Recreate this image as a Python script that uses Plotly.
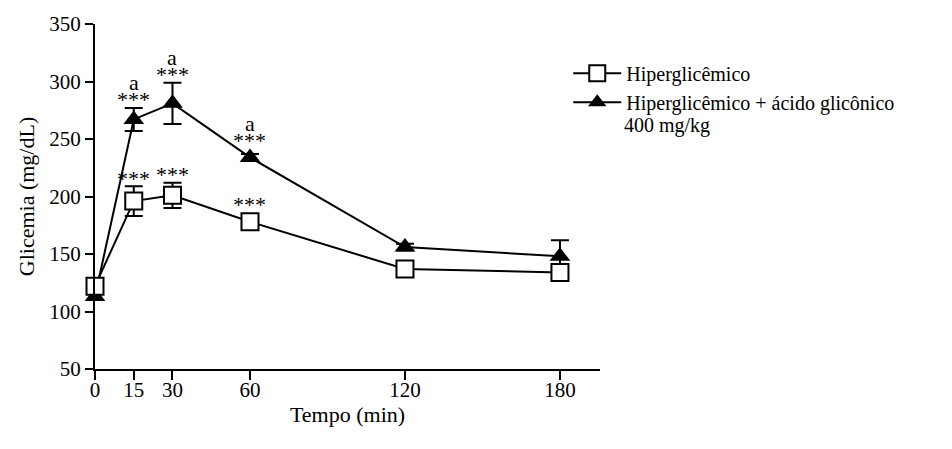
import plotly.graph_objects as go

tempo = [0, 15, 30, 60, 120, 180]
hiper = [122, 196, 201, 178, 137, 134]
hiper_err = [3, 13, 11, 5, 4, 4]
acido = [113, 267, 281, 234, 156, 148]
acido_err = [3, 10, 18, 3, 3, 14]

# significance marks (index into tempo)
sig_hiper = {1: '***', 2: '***', 3: '***'}
sig_acido = {1: '***', 2: '***', 3: '***'}
letra_acido = {1: 'a', 2: 'a', 3: 'a'}

font = 'Liberation Serif'

fig = go.Figure()
fig.add_trace(go.Scatter(
    x=tempo, y=acido, mode='lines+markers', cliponaxis=False,
    name='Hiperglicêmico + ácido glicônico', legendrank=2,
    line=dict(color='black', width=2),
    marker=dict(symbol='triangle-up', size=18, color='black'),
    error_y=dict(type='data', array=acido_err, color='black', thickness=2, width=9)))
fig.add_trace(go.Scatter(
    x=tempo, y=hiper, mode='lines+markers', cliponaxis=False,
    name='Hiperglicêmico', legendrank=1,
    line=dict(color='black', width=2),
    marker=dict(symbol='square', size=17, color='white', line=dict(color='black', width=2)),
    error_y=dict(type='data', array=hiper_err, color='black', thickness=2, width=9)))

for vals, errs, marks in [(hiper, hiper_err, sig_hiper), (acido, acido_err, sig_acido)]:
    for i, t in marks.items():
        fig.add_annotation(x=tempo[i], y=vals[i] + max(errs[i], 8), text=t, showarrow=False,
                           yanchor='middle', yshift=8, font=dict(family=font, size=22, color='black'))
for i, t in letra_acido.items():
    fig.add_annotation(x=tempo[i], y=acido[i] + max(acido_err[i], 8), text=t, showarrow=False,
                       yanchor='middle', yshift=25, font=dict(family=font, size=22, color='black'))

# second line of the legend label
fig.add_annotation(xref='paper', yref='paper', x=1.0435, y=0.707, xanchor='left', yanchor='middle',
                   text='400 mg/kg', showarrow=False, font=dict(family=font, size=20, color='black'))

fig.update_layout(
    width=952, height=449,
    margin=dict(l=87, r=360, t=16, b=88, autoexpand=False),
    paper_bgcolor='white', plot_bgcolor='white',
    font=dict(family=font, size=21, color='black'),
    showlegend=True,
    legend=dict(xref='container', yref='container', x=0.5885, y=0.898,
                xanchor='left', yanchor='top', itemwidth=48,
                font=dict(family=font, size=20), bgcolor='rgba(0,0,0,0)',
                tracegroupgap=0),
    xaxis=dict(range=[0, 195.5], tickvals=tempo, showline=True, linecolor='black', linewidth=2,
               ticks='outside', ticklen=9, tickwidth=2, tickcolor='black', showgrid=False,
               zeroline=False, automargin=False, ticklabelstandoff=-8,
               title=dict(text='Tempo (min)', font=dict(size=22), standoff=5)),
    yaxis=dict(range=[50, 350], dtick=50, showline=True, linecolor='black', linewidth=2,
               ticks='outside', ticklen=8, tickwidth=2, tickcolor='black', showgrid=False,
               zeroline=False, automargin=False,
               title=dict(text='Glicemia (mg/dL)', font=dict(size=22), standoff=9)),
)

fig.write_html('out.html')
